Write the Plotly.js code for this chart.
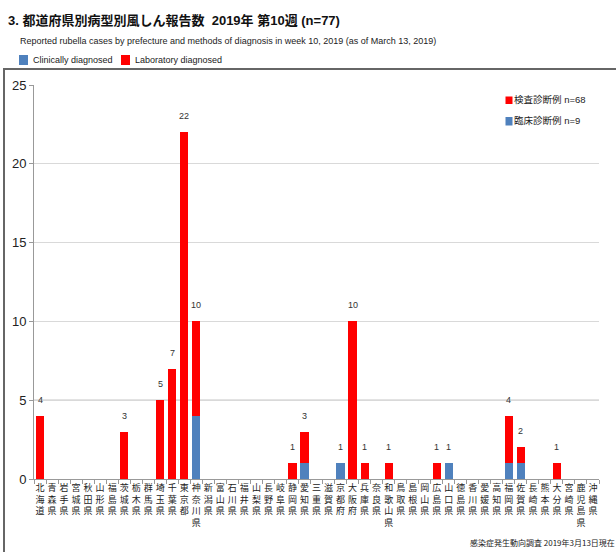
<!DOCTYPE html>
<html><head><meta charset="utf-8">
<script src="https://cdn.plot.ly/plotly-3.0.1.min.js"></script>
<style>html,body{margin:0;padding:0;background:#fff;}</style>
</head><body>
<div id="chart" style="width:616px;height:552px;"></div>
<script>
const prefectures = ['北海道','青森県','岩手県','宮城県','秋田県','山形県','福島県','茨城県','栃木県','群馬県','埼玉県','千葉県','東京都','神奈川県','新潟県','富山県','石川県','福井県','山梨県','長野県','岐阜県','静岡県','愛知県','三重県','滋賀県','京都府','大阪府','兵庫県','奈良県','和歌山県','鳥取県','島根県','岡山県','広島県','山口県','徳島県','香川県','愛媛県','高知県','福岡県','佐賀県','長崎県','熊本県','大分県','宮崎県','鹿児島県','沖縄県'];
const clinical   = [0,0,0,0,0,0,0,0,0,0,0,0,0,4,0,0,0,0,0,0,0,0,1,0,0,1,0,0,0,0,0,0,0,0,1,0,0,0,0,1,1,0,0,0,0,0,0];
const laboratory = [4,0,0,0,0,0,0,3,0,0,5,7,22,6,0,0,0,0,0,0,0,1,2,0,0,0,10,1,0,1,0,0,0,1,0,0,0,0,0,3,1,0,0,1,0,0,0];
const yTicks = [0,5,10,15,20,25];

const titleText = '3. 都道府県別病型別風しん報告数  2019年 第10週 (n=77)';
const subtitleText = 'Reported rubella cases by prefecture and methods of diagnosis in week 10, 2019 (as of March 13, 2019)';
const legendTop = ['Clinically diagnosed','Laboratory diagnosed'];
const legendIn = ['検査診断例 n=68','臨床診断例 n=9'];
const footerText = '感染症発生動向調査 2019年3月13日現在';

const BLUE = '#4F81BD', RED = '#FF0000';
const W = 616, H = 552, ML = 34, MR = 17, MT = 85, MB = 73;
const PW = W - ML - MR, PH = H - MT - MB;
const px = v => (v - ML) / PW;
const py = v => (H - MB - v) / PH;

const FONT = '"Liberation Sans","Noto Sans CJK JP",sans-serif';
const CJK = '"Noto Sans CJK JP","Liberation Sans",sans-serif';

const totals = prefectures.map((p, i) => clinical[i] + laboratory[i]);

const traces = [
  {type:'bar', name: legendTop[0], x: prefectures, y: clinical, marker:{color: BLUE}, hoverinfo:'x+y'},
  {type:'bar', name: legendTop[1], x: prefectures, y: laboratory, marker:{color: RED}, hoverinfo:'x+y'}
];

const annotations = [];
prefectures.forEach((p, i) => {
  if (totals[i] > 0) {
    annotations.push({x: p, y: totals[i], xref:'x', yref:'y', text: String(totals[i]), showarrow:false,
      yanchor:'middle', yshift:16, font:{family: FONT, size:9, color:'#333'}});
  }
});
function txt(x, y, text, size, opts) {
  annotations.push(Object.assign({xref:'paper', yref:'paper', x: px(x), y: py(y), text: text, showarrow:false,
    xanchor:'left', yanchor:'middle', borderpad:0, font:{family: FONT, size: size, color:'#222'}}, opts || {}));
}
txt(7, 21, '<b>' + titleText + '</b>', 13, {font:{family: FONT, size:13, color:'#111'}});
txt(19, 41, subtitleText, 9);
txt(32, 60, legendTop[0], 9);
txt(134, 60, legendTop[1], 9);
txt(513, 100, legendIn[0], 9.5);
txt(513, 120, legendIn[1], 9.5);
txt(469, 542, footerText, 8, {font:{family: CJK, size:8, color:'#222'}});

function rect(x0, y0, x1, y1, fill, line) {
  return {type:'rect', xref:'paper', yref:'paper', x0: px(x0), x1: px(x1), y0: py(y0), y1: py(y1),
    fillcolor: fill, line: line || {width:0}, layer:'above'};
}
const shapes = [
  {type:'rect', xref:'paper', yref:'paper', x0: px(4), x1: px(640), y0: py(69), y1: py(580),
    fillcolor:'rgba(0,0,0,0)', line:{color:'#666', width:2}, layer:'above'},
  {type:'line', xref:'paper', yref:'y', x0:0, x1:1, y0:5, y1:5, line:{color:'#a6a6a6', width:1}, layer:'between'},
  rect(19, 55, 28, 65, BLUE),
  rect(121, 55, 130, 65, RED),
  rect(505.5, 96.5, 512.5, 104, RED),
  rect(505.5, 117, 512.5, 125.5, BLUE)
];

const layout = {
  width: W, height: H,
  margin: {l: ML, r: MR, t: MT, b: MB, pad: 0},
  paper_bgcolor:'#fff', plot_bgcolor:'#fff',
  barmode:'stack', bargap: 0.32,
  showlegend:false,
  xaxis: {
    type:'category', tickmode:'array', tickvals: prefectures,
    ticktext: prefectures.map(p => p.split('').join('<br>')),
    tickson:'boundaries', ticks:'outside', ticklen:4, tickcolor:'#999', tickwidth:1,
    showline:true, linecolor:'#999', linewidth:1, showgrid:false, zeroline:false,
    tickfont:{family: CJK, size:9, color:'#222'}, tickangle:0, fixedrange:true
  },
  yaxis: {
    range:[0,25], tickmode:'array', tickvals: yTicks, ticks:'outside', ticklen:4, tickcolor:'#999',
    showline:true, linecolor:'#999', linewidth:1, gridcolor:'#d9d9d9', gridwidth:1, zeroline:false,
    tickfont:{family: FONT, size:13, color:'#222'}, fixedrange:true
  },
  annotations: annotations,
  shapes: shapes,
  font:{family: FONT}
};

Plotly.newPlot('chart', traces, layout, {displayModeBar:false, staticPlot:true});
</script>
</body></html>
